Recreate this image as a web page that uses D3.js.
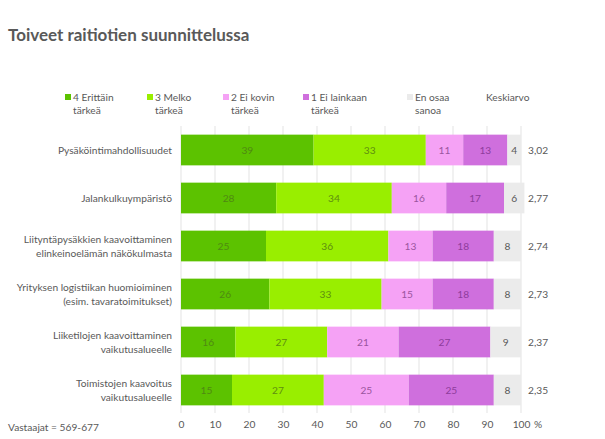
<!DOCTYPE html>
<html><head><meta charset="utf-8">
<script src="https://cdn.jsdelivr.net/npm/d3@7"></script>
<style>body{margin:0;background:#fff}svg{display:block}text{font-family:Lato,"Open Sans",sans-serif}</style>
</head><body><svg id="c" width="605" height="439"></svg>
<script>
const categories = [
  ["Pysäköintimahdollisuudet"],
  ["Jalankulkuympäristö"],
  ["Liityntäpysäkkien kaavoittaminen","elinkeinoelämän näkökulmasta"],
  ["Yrityksen logistiikan huomioiminen","(esim. tavaratoimitukset)"],
  ["Liiketilojen kaavoittaminen","vaikutusalueelle"],
  ["Toimistojen kaavoitus","vaikutusalueelle"]
];
const seriesNames = [["4 Erittäin","tärkeä"],["3 Melko","tärkeä"],["2 Ei kovin","tärkeä"],["1 Ei lainkaan","tärkeä"],["En osaa","sanoa"]];
const s4 = [39,28,25,26,16,15];
const s3 = [33,34,36,33,27,27];
const s2 = [11,16,13,15,21,25];
const s1 = [13,17,18,18,27,25];
const sEOS = [4,6,8,8,9,8];
const averages = ["3,02","2,77","2,74","2,73","2,37","2,35"];
const ticks = [0,10,20,30,40,50,60,70,80,90,100];
const footnote = "Vastaajat = 569-677";
const title = "Toiveet raitiotien suunnittelussa";

const colors = ["#5cc200","#99ee00","#f5a2f5","#cf6fdd","#ebebeb"];
const textColors = ["#4f8a12","#5f8f10","#9a559e","#8e3c9c","#595959"];
const series = [s4,s3,s2,s1,sEOS];
const FS = 10.2;

const svg = d3.select("#c");
const x = d3.scaleLinear().domain([0,100]).range([181,521]);
const y = d3.scaleBand().domain(d3.range(categories.length)).range([126,414]).paddingInner(0.36).paddingOuter(0.18);

svg.append("text").attr("x",8).attr("y",41).attr("fill","#595959")
  .attr("font-size",17).attr("font-weight",700).text(title);

// gridlines
svg.append("g").selectAll("line").data(ticks).join("line")
  .attr("x1",d=>x(d)).attr("x2",d=>x(d)).attr("y1",126).attr("y2",413)
  .attr("stroke","#e3e3e3").attr("stroke-width",1);

// axis
const ax = svg.append("g").attr("transform","translate(0,421)")
  .call(d3.axisBottom(x).tickValues(ticks).tickSize(0).tickPadding(0));
ax.select(".domain").remove();
ax.selectAll("text").attr("fill","#595959").attr("font-size",FS).attr("font-family","Lato, sans-serif").attr("dy","0.71em");
svg.append("text").attr("x",534).attr("y",428).attr("fill","#595959").attr("font-size",FS).text("%");

// bars
series.forEach((vals,si)=>{
  const g = svg.append("g");
  vals.forEach((v,i)=>{
    const start = d3.sum(series.slice(0,si), s=>s[i]);
    g.append("rect").attr("x",x(start)).attr("y",y(i)).attr("width",x(start+v)-x(start)).attr("height",y.bandwidth())
      .attr("fill",colors[si]);
    g.append("text").attr("x",(x(start)+x(start+v))/2).attr("y",y(i)+y.bandwidth()/2).attr("dy","0.35em")
      .attr("text-anchor","middle").attr("font-size",FS).attr("fill",textColors[si]).text(v);
  });
});

// averages
svg.append("g").selectAll("text").data(averages).join("text")
  .attr("x",528).attr("y",(d,i)=>y(i)+y.bandwidth()/2).attr("dy","0.35em")
  .attr("font-size",FS).attr("fill","#595959").text(d=>d);

// category labels
categories.forEach((lines,i)=>{
  const cy = y(i)+y.bandwidth()/2;
  const t = svg.append("text").attr("text-anchor","end").attr("font-size",FS).attr("fill","#595959");
  lines.forEach((l,k)=>{
    t.append("tspan").attr("x",172).attr("y",cy+(k-(lines.length-1)/2)*14).attr("dy","0.35em").text(l);
  });
});

// legend
const legX = [65,147,223,303,407];
seriesNames.forEach((n,i)=>{
  svg.append("rect").attr("x",legX[i]).attr("y",94).attr("width",6).attr("height",6).attr("fill",colors[i]);
  const t = svg.append("text").attr("font-size",FS).attr("fill","#595959");
  n.forEach((l,k)=>t.append("tspan").attr("x",legX[i]+8).attr("y",101+k*13).text(l));
});
svg.append("text").attr("x",486).attr("y",101).attr("font-size",FS).attr("fill","#595959").text("Keskiarvo");

svg.append("text").attr("x",8).attr("y",431).attr("font-size",FS).attr("fill","#595959").text(footnote);
</script></body></html>
